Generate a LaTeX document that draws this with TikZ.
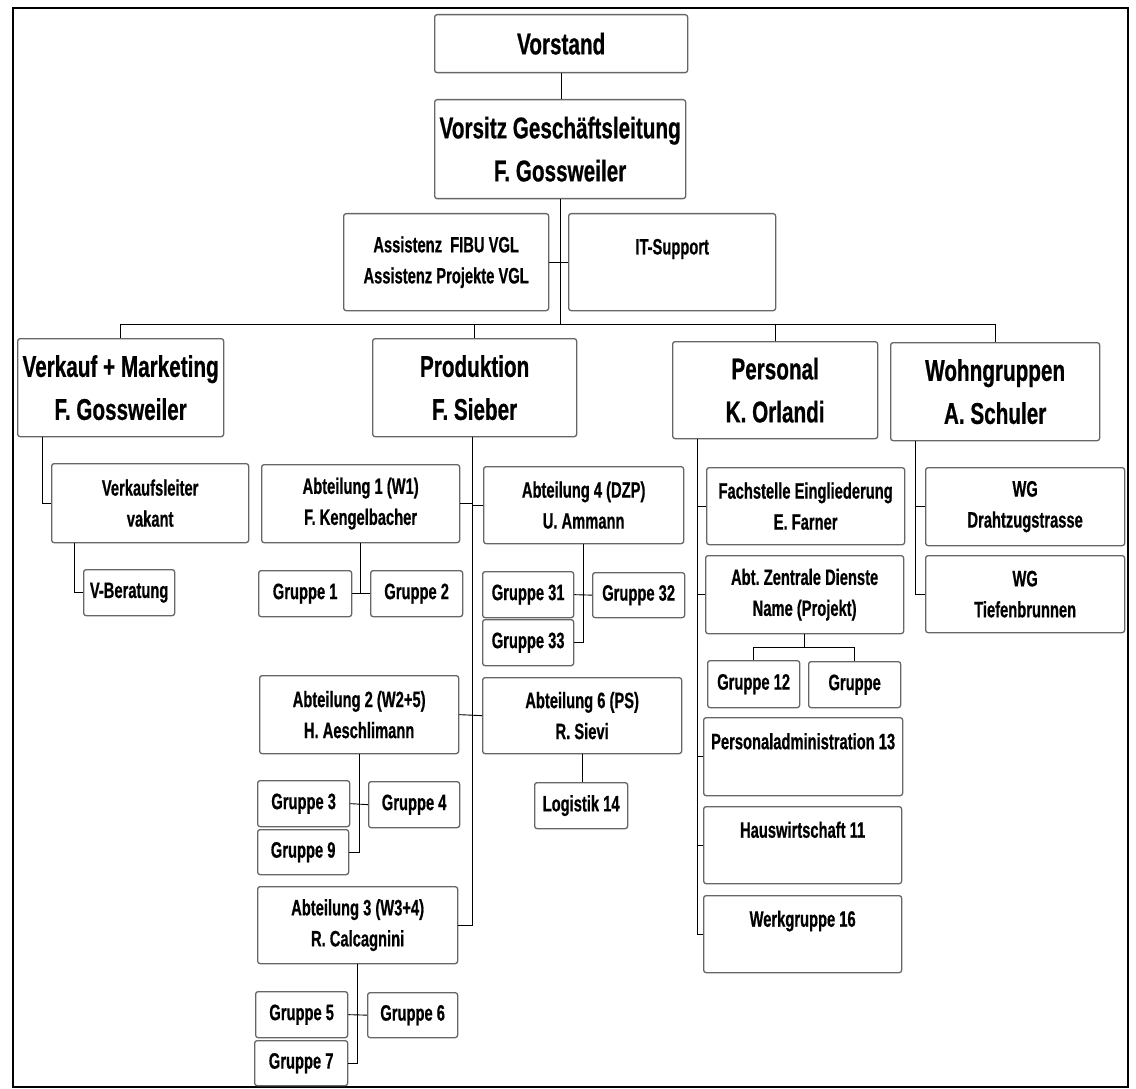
\documentclass[tikz,border=0pt]{standalone}
\usepackage{fontspec}
\newfontfamily\nfs{Liberation Sans}[FakeStretch=0.66, BoldFeatures={FakeBold=0.6}]
\newfontfamily\nfb{Liberation Sans}[FakeStretch=0.69, BoldFeatures={FakeBold=0.6}]
\usetikzlibrary{calc}
\frenchspacing
\tikzset{
  box/.style={draw=black!60, line width=1.3pt, rounded corners=2.5pt, inner sep=0pt, align=center,
    font=\nfs\bfseries\fontsize{22.3}{31}\selectfont},
  bigbox/.style={box, font=\nfb\bfseries\fontsize{30}{43}\selectfont},
  conn/.style={draw=black, line width=0.9pt},
}
\newcommand\bx[7][box]{%
  \node[#1, anchor=north west, minimum width={(#5-#3)*1pt}, minimum height={(#6-#4)*1pt}] (#2) at (#3,#4) {#7};}
\begin{document}
\begin{tikzpicture}[x=1pt,y=-1pt]
\useasboundingbox (0,0) rectangle (1136,1089);
\draw[line width=1.1pt] (13,8) rectangle (1128,1087);
% level 0/1
\bx[bigbox]{vorstand}{434}{14}{687}{72}{Vorstand}
\bx[bigbox]{vgl}{434}{99}{685}{198}{Vorsitz Geschäftsleitung\\F. Gossweiler}
\bx{assist}{343}{213}{548}{310}{Assistenz\ \ FIBU VGL\\Assistenz Projekte VGL}
\bx{it}{568}{213}{775}{310}{IT-Support\\~}
% level 2
\bx[bigbox]{vk}{17}{338}{223}{436}{Verkauf + Marketing\\F. Gossweiler}
\bx[bigbox]{prod}{372}{338}{576}{436}{Produktion\\F. Sieber}
\bx[bigbox]{pers}{672}{341}{877}{438}{Personal\\K. Orlandi}
\bx[bigbox]{wg}{890}{342}{1099}{440}{Wohngruppen\\A. Schuler}
% Verkauf
\bx{vl}{51}{463}{248}{542}{Verkaufsleiter\\vakant}
\bx{vb}{83}{569}{174}{615}{V-Beratung}
% Produktion
\bx{abt1}{261}{464}{459}{542}{Abteilung 1 (W1)\\F. Kengelbacher}
\bx{g1}{258}{570}{351}{616}{Gruppe 1}
\bx{g2}{370}{570}{462}{616}{Gruppe 2}
\bx{abt4}{483}{466}{683}{543}{Abteilung 4 (DZP)\\U. Ammann}
\bx{g31}{482}{571}{573}{617}{Gruppe 31}
\bx{g32}{592}{572}{684}{617}{Gruppe 32}
\bx{g33}{482}{619}{573}{665}{Gruppe 33}
\bx{abt2}{259}{675}{458}{753}{Abteilung 2 (W2+5)\\H. Aeschlimann}
\bx{abt6}{482}{677}{681}{753}{Abteilung 6 (PS)\\R. Sievi}
\bx{log}{534}{782}{627}{828}{Logistik 14}
\bx{g3}{257}{780}{349}{826}{Gruppe 3}
\bx{g4}{368}{781}{459}{827}{Gruppe 4}
\bx{g9}{257}{829}{348}{874}{Gruppe 9}
\bx{abt3}{257}{886}{457}{963}{Abteilung 3 (W3+4)\\R. Calcagnini}
\bx{g5}{255}{991}{347}{1037}{Gruppe 5}
\bx{g6}{367}{992}{457}{1037}{Gruppe 6}
\bx{g7}{254}{1040}{347}{1085}{Gruppe 7}
% Personal
\bx{fach}{706}{467}{904}{544}{Fachstelle Eingliederung\\E. Farner}
\bx{az}{705}{555}{903}{633}{Abt. Zentrale Dienste\\Name (Projekt)}
\bx{g12}{707}{660}{799}{707}{Gruppe 12}
\bx{gg}{808}{661}{900}{707}{Gruppe}
\bx{pa}{703}{717}{902}{795}{Personaladministration 13\\~}
\bx{hw}{703}{806}{901}{883}{Hauswirtschaft 11\\~}
\bx{wk}{703}{895}{901}{972}{Werkgruppe 16\\~}
% Wohngruppen
\bx{wgd}{925}{467}{1124}{545}{WG\\Drahtzugstrasse}
\bx{wgt}{925}{555}{1124}{632}{WG\\Tiefenbrunnen}
% connectors
\coordinate (bus) at (0,324);
\draw[conn] (vorstand.south) -- (vorstand.south |- vgl.north);
\draw[conn] (vgl.south) -- (vgl.south |- bus);
\draw[conn] (assist.east) -- (it.west);
\draw[conn] (vk.north) -- (vk.north |- bus) -- (wg.north |- bus) -- (wg.north);
\draw[conn] (prod.north) -- (prod.north |- bus);
\draw[conn] (pers.north) -- (pers.north |- bus);
% Verkauf
\draw[conn] ([xshift=25pt]vk.south west) |- (vl.west);
\draw[conn] ([xshift=23pt]vl.south west) |- (vb.west);
% Produktion
\coordinate (psp) at ([xshift=-2pt]prod.south);
\draw[conn] (psp) |- (abt3.east);
\draw[conn] (abt1.east) -- (abt1.east -| psp);
\draw[conn] (abt4.west) -- (abt4.west -| psp);
\draw[conn] (abt2.east) -- (abt6.west);
\draw[conn] (abt1.south) -- (abt1.south |- g1.east);
\draw[conn] (g1.east) -- (g2.west);
\draw[conn] (abt4.south) |- (g33.east);
\draw[conn] (g31.east) -- (g32.west);
\draw[conn] (abt2.south) |- (g9.east);
\draw[conn] (g3.east) -- (g4.west);
\draw[conn] (abt3.south) |- (g7.east);
\draw[conn] (g5.east) -- (g6.west);
\draw[conn] (abt6.south) -- (abt6.south |- log.north);
% Personal
\coordinate (ps) at ([xshift=25pt]pers.south west);
\draw[conn] (ps) |- (wk.west);
\draw[conn] (fach.west) -- (fach.west -| ps);
\draw[conn] (az.west) -- (az.west -| ps);
\draw[conn] (pa.west) -- (pa.west -| ps);
\draw[conn] (hw.west) -- (hw.west -| ps);
\coordinate (azb) at ($(az.south)+(0,13)$);
\draw[conn] (az.south) -- (azb);
\draw[conn] (g12.north) |- (azb) -| (gg.north);
% Wohngruppen
\coordinate (ws) at ([xshift=25pt]wg.south west);
\draw[conn] (ws) |- (wgt.west);
\draw[conn] (wgd.west) -- (wgd.west -| ws);
\end{tikzpicture}
\end{document}
